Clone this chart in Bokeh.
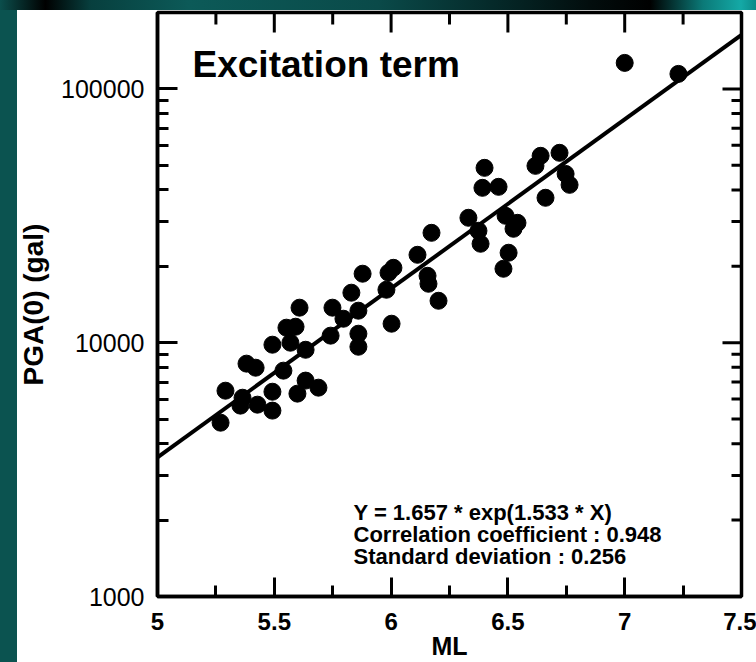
import numpy as np
from bokeh.plotting import figure
from bokeh.models import (FixedTicker, PrintfTickFormatter,
                          NumeralTickFormatter, Label, Range1d, ColumnDataSource)
from bokeh.embed import file_html
from bokeh.resources import INLINE

# ---- data ----
ml = [6.173, 6.113, 6.010, 5.989, 6.156, 6.160, 5.878, 5.830, 5.980, 6.203,
      5.749, 5.608, 5.860, 5.796, 6.002, 5.552, 5.591, 5.741, 5.860, 5.860,
      5.569, 5.492, 5.634, 5.381, 5.420, 5.539, 5.634, 5.599, 5.689, 5.492,
      5.291, 5.364, 5.355, 5.428, 5.492, 5.270,
      6.721, 6.640, 6.618, 6.747, 6.764, 6.661, 6.400, 6.391, 6.460, 6.331,
      6.374, 6.383, 6.490, 6.541, 6.524, 6.503, 6.481,
      7.000, 7.230]
pga = [27100, 22200, 19730, 18870, 18350, 17070, 18700, 15740, 16170, 14630,
       13740, 13740, 13370, 12430, 11880, 11460, 11560, 10660, 10850, 9640,
       10000, 9820, 9380, 8270, 7970, 7760, 7090, 6300, 6650, 6410,
       6470, 6070, 5650, 5700, 5400, 4840,
       56000, 54500, 49750, 46250, 41880, 37240, 48860, 40760, 41130, 31060,
       27610, 24540, 31620, 29670, 28110, 22620, 19560,
       126600, 114600]

x_ticks = [5.0, 5.5, 6.0, 6.5, 7.0, 7.5]
x_minor = [5.25, 5.75, 6.25, 6.75, 7.25]
y_ticks = [1000, 10000, 100000]
y_minor = [2000, 3000, 4000, 5000, 6000, 7000, 8000, 9000,
           20000, 30000, 40000, 50000, 60000, 70000, 80000, 90000]
fit_a = 1.657
fit_b = 1.533
x_limits = [5.0, 7.5]
y_limits = [1000, 200000]
title_text = "Excitation term"
stats_lines = ["Y = 1.657 * exp(1.533 * X)",
               "Correlation coefficient : 0.948",
               "Standard deviation : 0.256"]
x_label = "ML"
y_label = "PGA(0) (gal)"

FONT = "Liberation Sans"

bg_styles = {
    "background-color": "white",
    "background-image": ("linear-gradient(90deg, #0b4e4c 0%, #000000 6%, #073f3e 12%, "
                         "#0c5a58 25%, #0a4a49 50%, #052a2a 65%, #020d0d 78%, #000000 86%, "
                         "#0b7a78 93%, #14a9a6 98%, #0c8a88 100%), "
                         "linear-gradient(#0b5350, #0b5350)"),
    "background-size": "100% 10px, 17px 100%",
    "background-repeat": "no-repeat",
    "background-position": "0 0, 0 0",
}

p = figure(width=756, height=662, y_axis_type="log",
           x_range=Range1d(*x_limits), y_range=Range1d(*y_limits),
           output_backend="svg", toolbar_location=None,
           min_border_left=157, min_border_right=15,
           min_border_top=12, min_border_bottom=66,
           border_fill_color=None, background_fill_color="white",
           outline_line_color="black", outline_line_width=3.5,
           styles=bg_styles)
p.grid.visible = False


def style_axis(ax, ticks, minor, major_in, minor_in):
    ax.ticker = FixedTicker(ticks=ticks, minor_ticks=minor)
    ax.axis_line_width = 3.5
    ax.axis_line_color = "black"
    ax.major_tick_line_width = 3
    ax.minor_tick_line_width = 3
    ax.major_tick_line_color = "black"
    ax.minor_tick_line_color = "black"
    ax.major_tick_in = major_in
    ax.major_tick_out = 0
    ax.minor_tick_in = minor_in
    ax.minor_tick_out = 0


# bottom axis
xb = p.xaxis[0]
style_axis(xb, x_ticks, x_minor, 19, 11)
xb.formatter = NumeralTickFormatter(format="0.[0]")
xb.major_label_text_font = FONT
xb.major_label_text_font_style = "bold"
xb.major_label_text_font_size = "24px"
xb.major_label_text_color = "black"
xb.major_label_standoff = 16
xb.axis_label = x_label
xb.axis_label_text_font = FONT
xb.axis_label_text_font_style = "bold"
xb.axis_label_text_font_size = "25px"
xb.axis_label_text_color = "black"
xb.axis_label_standoff = -1

# left axis
yl = p.yaxis[0]
style_axis(yl, y_ticks, y_minor, 20, 11)
yl.formatter = PrintfTickFormatter(format="%d")
yl.major_label_text_font = FONT
yl.major_label_text_font_style = "normal"
yl.major_label_text_font_size = "25px"
yl.major_label_text_color = "black"
yl.major_label_standoff = 13
yl.axis_label = y_label
yl.axis_label_text_font = FONT
yl.axis_label_text_font_style = "bold"
yl.axis_label_text_font_size = "28px"
yl.axis_label_text_color = "black"
yl.axis_label_standoff = 9

# mirrored inward ticks on top and right edges (dash markers clipped by the frame)
p.scatter(x_ticks, [y_limits[1]] * len(x_ticks), marker="dash", angle=np.pi / 2,
          size=40, line_color="black", line_width=3)
p.scatter(x_minor, [y_limits[1]] * len(x_minor), marker="dash", angle=np.pi / 2,
          size=24, line_color="black", line_width=3)
p.scatter([x_limits[1]] * len(y_ticks), y_ticks, marker="dash", size=38,
          line_color="black", line_width=3)
p.scatter([x_limits[1]] * len(y_minor), y_minor, marker="dash", size=20,
          line_color="black", line_width=3)

# regression line
fit_x = np.array(x_limits)
fit_y = fit_a * np.exp(fit_b * fit_x)
p.line(fit_x, fit_y, line_color="black", line_width=4)

# data points
src = ColumnDataSource(dict(ml=ml, pga=pga))
p.scatter("ml", "pga", source=src, size=17, fill_color="black", line_color="black")

# title inside the plot
p.add_layout(Label(x=5.15, y=124300, text=title_text, text_font=FONT,
                   text_font_style="bold", text_font_size="37px",
                   text_color="black", text_baseline="middle"))

# statistics block
stat_y = [2141, 1762, 1431]
for txt, yy in zip(stats_lines, stat_y):
    p.add_layout(Label(x=5.839, y=yy, text=txt, text_font=FONT,
                       text_font_style="bold", text_font_size="22px",
                       text_color="black", text_baseline="middle"))

open("out.html", "w").write(file_html(p, INLINE))
